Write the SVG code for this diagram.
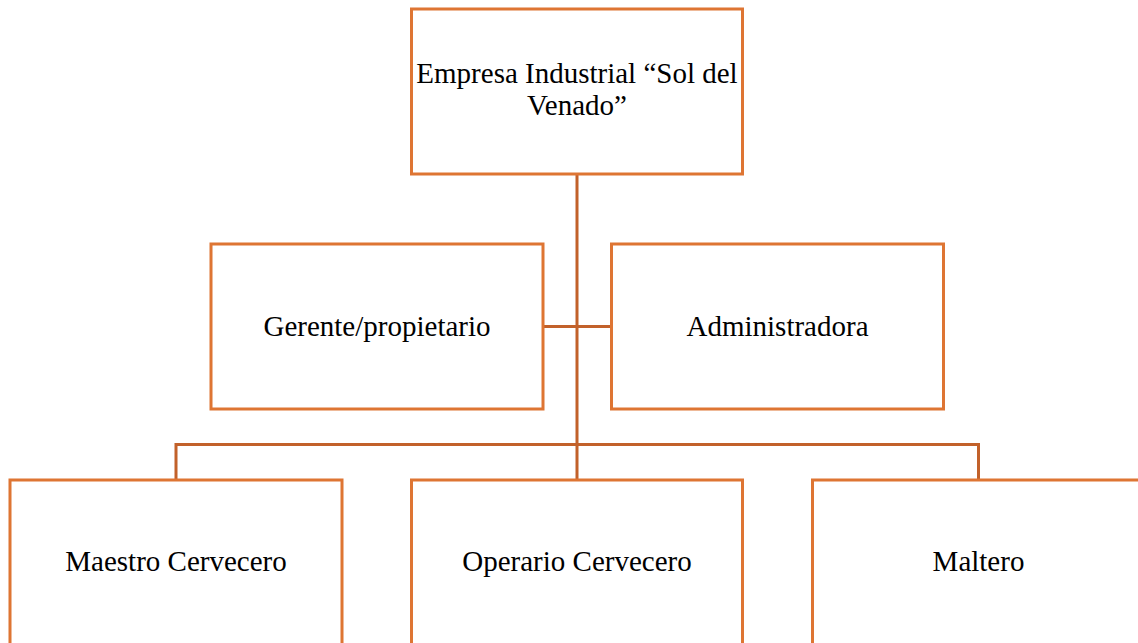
<svg xmlns="http://www.w3.org/2000/svg" width="1138" height="643" viewBox="0 0 1138 643">
<style>
.box{fill:#ffffff;stroke:#DE7533;stroke-width:3}
.con{fill:none;stroke:#C2612A;stroke-width:3}
.t{font-family:"Liberation Serif","Times New Roman",serif;font-size:29px;fill:#000000;text-anchor:middle}
</style>
<rect width="1138" height="643" fill="#ffffff"/>
<g id="connectors">
<line class="con" x1="577" y1="174" x2="577" y2="480"/>
<line class="con" x1="543" y1="326.5" x2="611" y2="326.5"/>
<polyline class="con" points="176,480 176,444.5 978.5,444.5 978.5,480"/>
</g>
<g id="n-empresa">
<rect class="box" x="411.5" y="9" width="331" height="165"/>
<text class="t" x="577" y="83">Empresa Industrial “Sol del</text>
<text class="t" x="577" y="115">Venado”</text>
</g>
<g id="n-gerente">
<rect class="box" x="211" y="244" width="332" height="165"/>
<text class="t" x="377" y="336">Gerente/propietario</text>
</g>
<g id="n-administradora">
<rect class="box" x="611.5" y="244" width="332" height="165"/>
<text class="t" x="777.5" y="336">Administradora</text>
</g>
<g id="n-maestro">
<rect class="box" x="10" y="480" width="332" height="180"/>
<text class="t" x="176" y="571">Maestro Cervecero</text>
</g>
<g id="n-operario">
<rect class="box" x="411.5" y="480" width="331" height="180"/>
<text class="t" x="577" y="571">Operario Cervecero</text>
</g>
<g id="n-maltero">
<rect class="box" x="812.5" y="480" width="340" height="180"/>
<text class="t" x="978.5" y="571">Maltero</text>
</g>
</svg>
